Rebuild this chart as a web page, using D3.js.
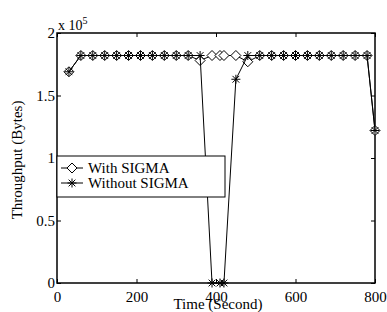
<!DOCTYPE html>
<html lang="en">
<head>
<meta charset="UTF-8">
<title>Throughput</title>
<style>
    body { margin: 0; background: #fff; }
    svg text { font-family: "Liberation Serif", "Times New Roman", serif; fill: #000; }
    .line { fill: none; stroke: #000; stroke-width: 1; }
    .diamond { fill: #fff; stroke: #000; stroke-width: 1; }
    .star { stroke: #000; stroke-width: 1; fill: none; }
</style>
</head>
<body>
<svg id="chart" width="387" height="312"></svg>
<script src="https://d3js.org/d3.v7.min.js"></script>
<script>
// time axis (seconds)
const times = [30, 60, 90, 120, 150, 180, 210, 240, 270, 300, 330, 360, 390, 410, 420, 450,
               480, 510, 540, 570, 600, 630, 660, 690, 720, 750, 780, 800];
// throughput in bytes
const withSigma = [169000, 182000, 182000, 182000, 182000, 182000, 182000, 182000, 182000, 182000, 182000,
                   178000, 182000, 182000, 182000, 182000, 177000,
                   182000, 182000, 182000, 182000, 182000, 182000, 182000, 182000, 182000, 182000, 122000];
const withoutSigma = [169000, 182000, 182000, 182000, 182000, 182000, 182000, 182000, 182000, 182000, 182000,
                      182000, 0, 0, 0, 163000, 182000,
                      182000, 182000, 182000, 182000, 182000, 182000, 182000, 182000, 182000, 182000, 122000];
const xTicks = [0, 200, 400, 600, 800];
const yTicks = [0, 50000, 100000, 150000, 200000];
const yTickLabels = ['0', '0.5', '1', '1.5', '2'];
const legendLabels = ['With SIGMA', 'Without SIGMA'];

const svg = d3.select('#chart');
const mLeft = 57, mRight = 375, mTop = 33, mBottom = 283;

const x = d3.scaleLinear().domain([0, 800]).range([mLeft, mRight]);
const y = d3.scaleLinear().domain([0, 200000]).range([mBottom, mTop]);

// frame
svg.append('rect')
    .attr('x', mLeft).attr('y', mTop)
    .attr('width', mRight - mLeft).attr('height', mBottom - mTop)
    .attr('fill', 'none').attr('stroke', '#000').attr('stroke-width', 1.5);

// inward ticks on all sides
const tk = 4;
const gx = svg.append('g').attr('transform', `translate(0,${mBottom})`)
    .call(d3.axisBottom(x).tickValues(xTicks).tickSize(-tk).tickPadding(tk + 4));
gx.select('.domain').remove();
gx.selectAll('text').style('font-size', '15px').attr('dy', '0.75em');

const gxt = svg.append('g').attr('transform', `translate(0,${mTop})`)
    .call(d3.axisTop(x).tickValues(xTicks).tickSize(-tk).tickFormat(''));
gxt.select('.domain').remove();

const gy = svg.append('g').attr('transform', `translate(${mLeft},0)`)
    .call(d3.axisLeft(y).tickValues(yTicks).tickSize(-tk).tickPadding(2)
        .tickFormat((d, i) => yTickLabels[i]));
gy.select('.domain').remove();
gy.selectAll('text').style('font-size', '15px');

const gyr = svg.append('g').attr('transform', `translate(${mRight},0)`)
    .call(d3.axisRight(y).tickValues(yTicks).tickSize(-tk).tickFormat(''));
gyr.select('.domain').remove();

// exponent label
const expo = svg.append('text').attr('x', mLeft + 1).attr('y', mTop - 3).style('font-size', '14px');
expo.append('tspan').text('x 10');
expo.append('tspan').attr('dy', -6).style('font-size', '10px').text('5');

// axis titles
svg.append('text')
    .attr('x', 218).attr('y', 309)
    .attr('text-anchor', 'middle')
    .style('font-size', '15px')
    .text('Time (Second)');

svg.append('text')
    .attr('transform', 'translate(22,160) rotate(-90)')
    .attr('text-anchor', 'middle')
    .style('font-size', '15px')
    .text('Throughput (Bytes)');

const line = d3.line().x(d => x(d[0])).y(d => y(d[1]));
const ptsWith = times.map((t, i) => [t, withSigma[i]]);
const ptsWithout = times.map((t, i) => [t, withoutSigma[i]]);

function diamond(g, px, py, s) {
    g.append('path')
        .attr('class', 'diamond')
        .attr('d', `M${px},${py - s}L${px + s},${py}L${px},${py + s}L${px - s},${py}Z`);
}
function star(g, px, py, s) {
    const d = s * 0.75;
    g.append('path')
        .attr('class', 'star')
        .attr('d', `M${px - s},${py}L${px + s},${py}M${px},${py - s}L${px},${py + s}` +
                   `M${px - d},${py - d}L${px + d},${py + d}M${px - d},${py + d}L${px + d},${py - d}`);
}

// With SIGMA
svg.append('path').datum(ptsWith).attr('class', 'line').attr('d', line);
const gW = svg.append('g');
ptsWith.forEach(p => diamond(gW, x(p[0]), y(p[1]), 5));

// Without SIGMA
svg.append('path').datum(ptsWithout).attr('class', 'line').attr('d', line);
const gWo = svg.append('g');
ptsWithout.forEach(p => star(gWo, x(p[0]), y(p[1]), 4.5));

// legend
const lg = svg.append('g');
lg.append('rect')
    .attr('x', mLeft).attr('y', 156)
    .attr('width', 168).attr('height', 41)
    .attr('fill', '#fff').attr('stroke', '#000').attr('stroke-width', 1);
legendLabels.forEach((lab, i) => {
    const ly = 168 + i * 15;
    lg.append('line').attr('x1', 61).attr('x2', 83).attr('y1', ly).attr('y2', ly)
        .attr('stroke', '#000').attr('stroke-width', 1);
    if (i === 0) diamond(lg, 72, ly, 5); else star(lg, 72, ly, 4.5);
    lg.append('text').attr('x', 88).attr('y', ly + 5).style('font-size', '15px').text(lab);
});
</script>
</body>
</html>
